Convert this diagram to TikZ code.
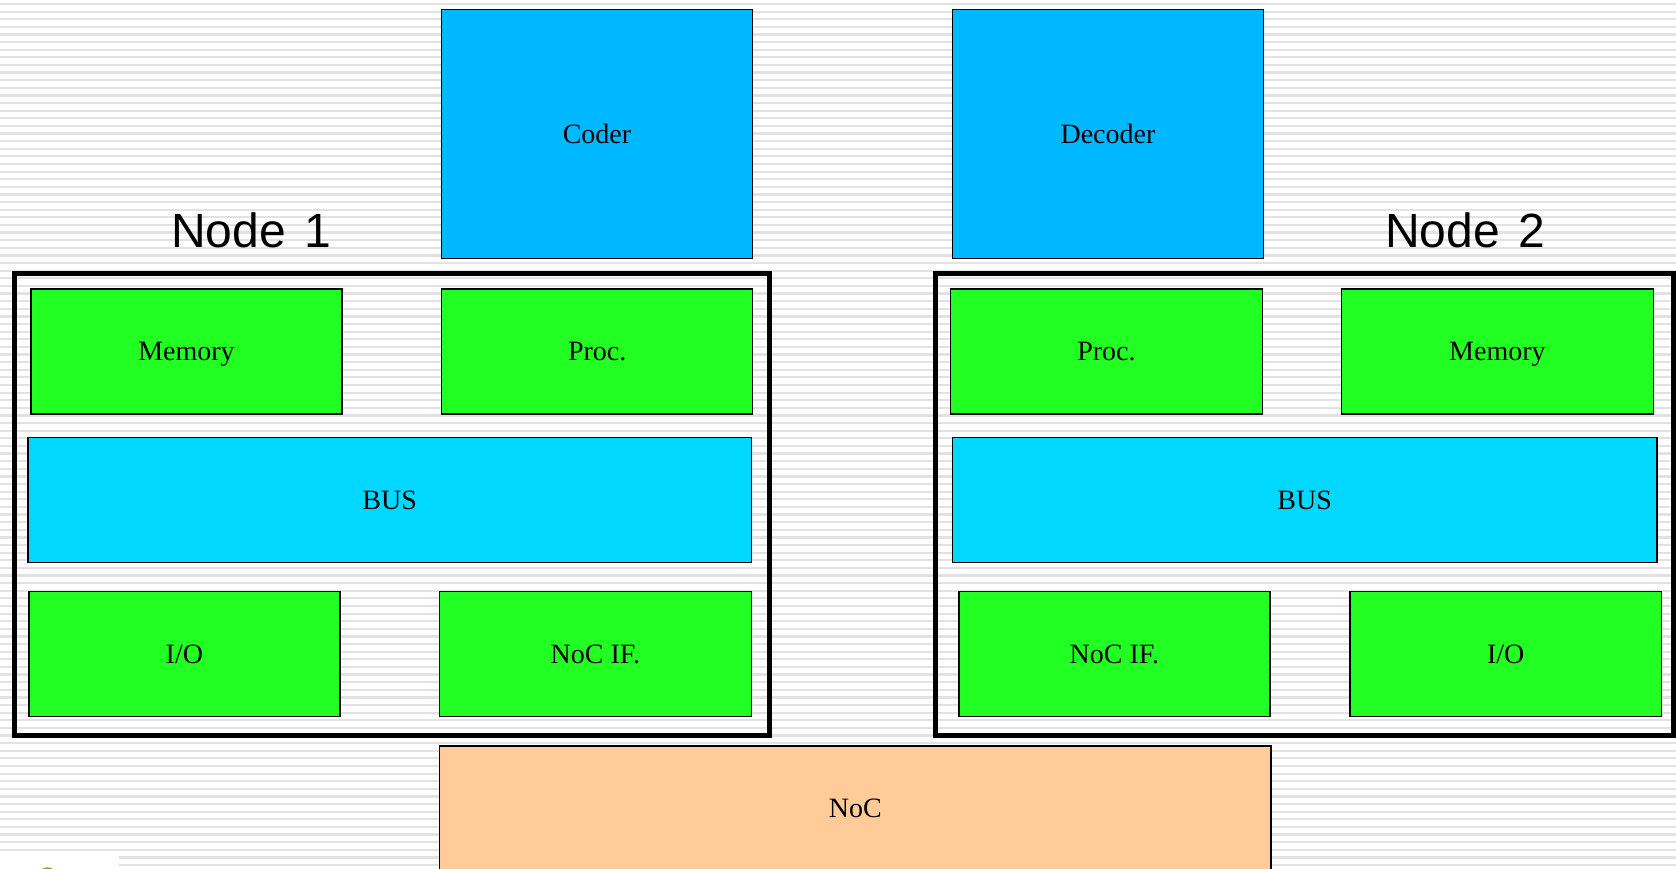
\documentclass[tikz,border=0pt]{standalone}
\usepackage{fontspec}
\setmainfont{Liberation Serif}
\newfontfamily\headsans{Liberation Sans}
\definecolor{stripegray}{RGB}{226,226,226}
\definecolor{unitblue}{RGB}{0,184,255}
\definecolor{busblue}{RGB}{0,216,255}
\definecolor{blockgreen}{RGB}{34,255,34}
\definecolor{nocorange}{RGB}{255,204,153}
\definecolor{logogreen}{RGB}{90,190,40}
\tikzset{
  block/.style={draw=black, line width=1.5pt, inner sep=0pt, outer sep=0pt,
    font=\fontsize{28}{32}\selectfont, text=black,
    text height=18.6pt, text depth=0pt},
  greenblock/.style={block, fill=blockgreen, minimum height=125pt},
  frame/.style={draw=black, line width=5pt},
  nodetitle/.style={font=\headsans\fontsize{48}{52}\selectfont, text=black, inner sep=0pt},
  stripe/.style={draw=stripegray, line width=2.2pt}
}
\begin{document}
\begin{tikzpicture}[x=1pt, y=-1pt]
  \useasboundingbox (0,0) rectangle (1676,869);
  \clip (0,0) rectangle (1676,869);
  % striped background
  \fill[white] (0,0) rectangle (1676,869);
  \foreach \i in {0,...,114} {
    \draw[stripe] (0,{4+\i*7.62}) -- (1676,{4+\i*7.62});
  }
  % corner patch
  \fill[white] (0,852.7) rectangle (119,869);
  \fill[logogreen] (47.5,877.3) circle (10);

  % codec units
  \node[block, fill=unitblue, minimum width=311pt, minimum height=249pt] (coder) at (597,134.2) {Coder};
  \node[block, fill=unitblue, minimum width=311pt, minimum height=249pt] (decoder) at (1108,134.2) {Decoder};

  % node frames and titles
  \draw[frame] (14.3,273.8) rectangle (769.2,735.5);
  \draw[frame] (935.5,273.8) rectangle (1673.5,735.5);
  \node[nodetitle] (title1) at (251,230) {Node\hspace{5pt} 1};
  \node[nodetitle] (title2) at (1465,230) {Node\hspace{5pt} 2};

  % Node 1 contents
  \node[greenblock, minimum width=311pt] (mem1) at (186.5,351.5) {Memory};
  \node[greenblock, minimum width=311pt] (proc1) at (597.2,351.5) {Proc.};
  \node[block, fill=busblue, minimum width=723.6pt, minimum height=125pt] (bus1) at (389.6,499.8) {BUS};
  \node[greenblock, minimum width=311pt] (io1) at (184.4,654.2) {I/O};
  \node[greenblock, minimum width=312pt] (nocif1) at (595.4,654.2) {NoC IF.};

  % Node 2 contents
  \node[greenblock, minimum width=312pt] (proc2) at (1106.4,351.5) {Proc.};
  \node[greenblock, minimum width=311.8pt] (mem2) at (1497.4,351.5) {Memory};
  \node[block, fill=busblue, minimum width=704.3pt, minimum height=125pt] (bus2) at (1304.6,499.8) {BUS};
  \node[greenblock, minimum width=311pt] (nocif2) at (1114.4,654.2) {NoC IF.};
  \node[greenblock, minimum width=311.3pt] (io2) at (1505.7,654.2) {I/O};

  % network on chip
  \node[block, fill=nocorange, minimum width=831.5pt, minimum height=125pt] (noc) at (855.3,808.5) {NoC};
\end{tikzpicture}
\end{document}
